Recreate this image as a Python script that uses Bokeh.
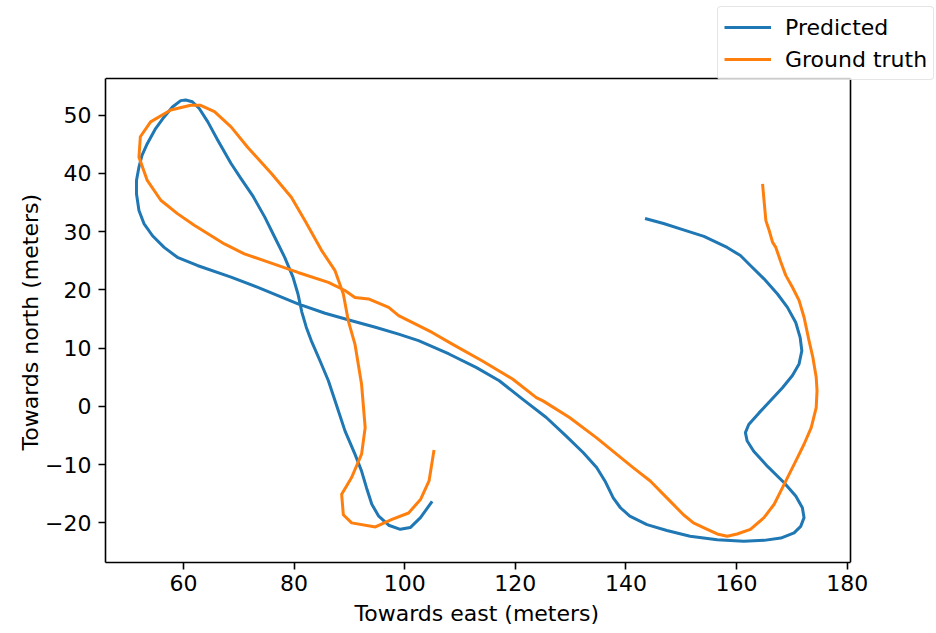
from bokeh.plotting import figure
from bokeh.models import Legend, LegendItem, FixedTicker, Range1d, Title
from bokeh.embed import file_html
from bokeh.resources import INLINE

# Predicted trajectory (meters)
pred_east = [143.45, 146.8, 150.4, 154.1, 158.3, 160.7, 162.5, 164.96, 167.4, 169.2,
             170.7, 171.5, 171.8, 171.3, 170.1, 168.3, 166.2, 164.1, 162.2, 161.6,
             161.9, 163.1, 165.6, 168.6, 170.7, 171.9, 172.2, 171.6, 170.4, 168.0,
             164.96, 161.3, 156.5, 151.6, 147.4, 143.8, 140.7, 139.0, 137.7, 136.2,
             134.7, 132.3, 129.2, 125.6, 121.3, 117.1, 112.9, 108.0, 102.5, 98.9,
             94.7, 90.4, 85.6, 80.7, 73.45, 68.6, 62.5, 58.9, 56.5, 54.4,
             52.85, 51.95, 51.5, 51.5, 51.95, 52.5, 53.45, 54.96, 56.5, 58.0,
             59.5, 60.4, 61.6, 62.85, 64.4, 66.2, 68.6, 70.4, 72.5, 74.7,
             76.5, 78.3, 79.8, 80.7, 81.4, 82.2, 83.1, 84.7, 86.2, 87.7,
             89.2, 91.0, 92.2, 93.1, 94.05, 95.3, 97.1, 99.2, 101.0, 102.85,
             104.96]
pred_north = [32.27, 31.4, 30.3, 29.2, 27.3, 25.9, 24.2, 21.9, 19.3, 17.0,
              14.4, 11.8, 9.55, 7.3, 5.3, 3.2, 1.05, -1.07, -3.1, -4.5,
              -5.9, -7.7, -10.3, -13.1, -15.4, -17.4, -19.1, -20.6, -21.7, -22.6,
              -23.0, -23.15, -22.9, -22.3, -21.3, -20.3, -18.85, -17.4, -15.7, -12.8,
              -10.5, -7.95, -5.1, -1.9, 1.25, 4.4, 6.7, 9.0, 11.3, 12.4,
              13.6, 14.7, 16.0, 17.6, 20.45, 22.2, 24.2, 25.6, 27.3, 29.3,
              31.4, 33.65, 36.5, 38.8, 41.1, 43.1, 45.1, 47.7, 49.7, 51.4,
              52.5, 52.6, 52.3, 51.15, 48.85, 45.7, 41.7, 39.1, 36.2, 32.5,
              29.05, 25.6, 22.2, 19.3, 16.2, 13.6, 11.3, 7.8, 4.4, 0.1,
              -4.2, -8.2, -11.1, -14.0, -16.8, -18.85, -20.4, -21.1, -20.8, -19.1,
              -16.3]

# Ground truth trajectory (meters)
gt_east = [164.7, 164.96, 165.3, 165.9, 166.5, 167.1, 168.0, 168.9, 170.1, 171.3,
           172.2, 173.1, 173.8, 174.4, 174.55, 174.4, 173.5, 172.2, 170.7, 168.6,
           166.8, 164.96, 162.5, 160.1, 158.3, 156.5, 154.7, 152.2, 150.4, 147.4,
           144.4, 141.3, 138.3, 134.7, 129.8, 125.0, 123.8, 119.5, 114.05, 108.6,
           104.96, 98.9, 97.1, 93.45, 91.0, 89.2, 86.2, 80.7, 74.7, 71.0,
           67.4, 61.95, 58.9, 55.9, 53.45, 51.95, 52.2, 54.05, 57.7, 61.3,
           63.1, 65.6, 68.6, 71.6, 75.9, 79.5, 81.95, 84.96, 87.4, 88.9,
           89.8, 91.0, 92.2, 92.85, 92.2, 90.4, 88.6, 88.9, 90.4, 94.7,
           97.7, 100.7, 102.85, 104.4, 105.3]
gt_north = [38.2, 35.4, 31.9, 30.2, 28.2, 27.3, 24.8, 22.5, 20.45, 18.2,
            15.3, 11.3, 8.4, 5.0, 2.7, -0.2, -3.65, -6.5, -9.4, -13.4,
            -16.8, -19.1, -21.1, -21.9, -22.3, -21.9, -21.1, -20.0, -18.6, -15.7,
            -12.8, -10.5, -8.2, -5.4, -1.9, 0.95, 1.5, 4.7, 7.8, 10.7,
            12.7, 15.6, 17.0, 18.45, 18.7, 19.9, 21.3, 23.0, 25.0, 26.2,
            27.9, 31.1, 33.1, 35.4, 38.8, 42.8, 46.3, 48.85, 50.9, 51.7,
            51.7, 50.6, 48.0, 44.5, 40.0, 35.9, 31.9, 26.8, 23.3, 19.3,
            14.7, 10.7, 3.8, -3.65, -8.2, -12.2, -15.1, -18.6, -20.0, -20.7,
            -19.4, -18.3, -16.0, -12.8, -7.5]

x_ticks = [60, 80, 100, 120, 140, 160, 180]
y_ticks = [-20, -10, 0, 10, 20, 30, 40, 50]
x_label = "Towards east (meters)"
y_label = "Towards north (meters)"
series_labels = ["Predicted", "Ground truth"]
series_colors = ["#1f77b4", "#ff7f0e"]

FONT = "DejaVu Sans"
FS = "22px"

# axes box (data limits) and page layout
X0, X1 = 45.9, 180.6
Y0, Y1 = -26.8, 56.3
W, H = 936, 633
LEFT, BOTTOM = 105, 71          # pixels of border left / below
BOX_W, BOX_H = 745, 484         # pixel size of the axes box
frame_w = W - LEFT
frame_h = H - BOTTOM
x_end = X0 + frame_w * (X1 - X0) / BOX_W
y_end = Y0 + frame_h * (Y1 - Y0) / BOX_H

p = figure(width=W, height=H, output_backend="svg", toolbar_location=None,
           x_range=Range1d(X0, x_end), y_range=Range1d(Y0, y_end),
           min_border_left=LEFT, min_border_right=0, min_border_top=0,
           min_border_bottom=BOTTOM)
p.grid.visible = False
p.background_fill_color = "white"
p.border_fill_color = "white"
p.outline_line_color = None

# top and right spines of the axes box
p.segment(x0=[X0, X1], y0=[Y1, Y0], x1=[X1, X1], y1=[Y1, Y1],
          line_color="black", line_width=1.6)

r1 = p.line(pred_east, pred_north, line_color=series_colors[0], line_width=3,
            line_join="round")
r2 = p.line(gt_east, gt_north, line_color=series_colors[1], line_width=3,
            line_join="round")

p.xaxis.ticker = FixedTicker(ticks=x_ticks)
p.yaxis.ticker = FixedTicker(ticks=y_ticks)
p.xaxis.bounds = (X0, X1)
p.yaxis.bounds = (Y0, Y1)
p.yaxis.major_label_overrides = {t: (str(t).replace("-", "\u2212")) for t in y_ticks}
for ax in (p.xaxis, p.yaxis):
    ax.axis_line_width = 1.6
    ax.major_tick_line_width = 1.6
    ax.major_tick_out = 7
    ax.major_tick_in = 0
    ax.minor_tick_line_color = None
    ax.major_label_text_font = FONT
    ax.major_label_text_font_size = FS
    ax.major_label_text_color = "black"
p.xaxis.major_label_standoff = 5
p.yaxis.major_label_standoff = 7

xt = Title(text=x_label, align="left", offset=249, standoff=10,
           text_font=FONT, text_font_size=FS, text_font_style="normal",
           text_color="black")
p.add_layout(xt, "below")
yt = Title(text=y_label, align="left", offset=112, standoff=0,
           text_font=FONT, text_font_size=FS, text_font_style="normal",
           text_color="black")
p.add_layout(yt, "left")

legend = Legend(items=[LegendItem(label=series_labels[0], renderers=[r1]),
                       LegendItem(label=series_labels[1], renderers=[r2])],
                location=(612, frame_h - 80))
legend.label_text_font = FONT
legend.label_text_font_size = FS
legend.label_text_color = "black"
legend.glyph_width = 47
legend.glyph_height = 28
legend.label_height = 28
legend.label_standoff = 14
legend.spacing = 4
legend.padding = 6
legend.margin = 0
legend.border_line_color = "#cccccc"
legend.border_line_width = 1
legend.border_radius = 4
legend.background_fill_color = "white"
legend.background_fill_alpha = 0.8
p.add_layout(legend)

open("out.html", "w").write(file_html(p, INLINE))
